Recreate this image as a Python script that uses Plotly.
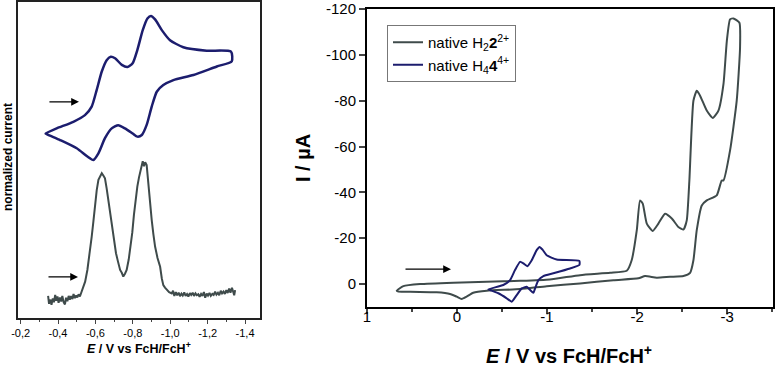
import plotly.graph_objects as go

# ---------------- data ----------------
# Left panel: CV of H4 4^4+ (normalized current, arbitrary units)
cv4_E = [-0.334, -0.393, -0.482, -0.544, -0.580, -0.607, -0.634, -0.660, -0.682, -0.705,
         -0.741, -0.771, -0.799, -0.824, -0.853, -0.878, -0.897, -0.919, -0.955, -0.999,
         -1.070, -1.195, -1.325, -1.329,
         -1.249, -1.124, -1.017, -0.963, -0.928, -0.901, -0.874, -0.848, -0.824, -0.799,
         -0.758, -0.722, -0.687, -0.651, -0.616, -0.589, -0.557, -0.500, -0.411, -0.339, -0.334]
cv4_I = [58.4, 60.0, 62.1, 64.2, 66.9, 72.2, 78.0, 81.6, 82.7, 82.2,
         80.1, 79.4, 80.6, 84.8, 91.1, 94.8, 95.6, 94.5, 91.1, 87.9,
         85.7, 84.6, 84.3, 81.2,
         79.6, 76.9, 75.3, 73.7, 71.6, 66.9, 61.1, 57.9, 57.4, 58.4,
         60.0, 61.0, 60.0, 56.9, 52.1, 50.0, 51.1, 53.7, 56.3, 58.2, 58.4]

# Left panel: differential pulse voltammogram (normalized)
dpv_E = [-0.347, -0.352, -0.360, -0.365, -0.372, -0.378, -0.385, -0.390, -0.397, -0.403,
         -0.410, -0.417, -0.423, -0.430, -0.437, -0.443, -0.450, -0.457, -0.463, -0.470,
         -0.477, -0.483, -0.490, -0.497, -0.503, -0.510, -0.517, -0.523, -0.530,
         -0.535, -0.545, -0.557, -0.568, -0.580, -0.589, -0.598, -0.607, -0.616, -0.625, -0.634,
         -0.643, -0.651, -0.660, -0.669, -0.680, -0.692, -0.700, -0.710, -0.720, -0.732, -0.741,
         -0.749, -0.758, -0.767, -0.778, -0.789, -0.797, -0.806, -0.815, -0.824, -0.833, -0.842,
         -0.848, -0.853, -0.860, -0.866, -0.874, -0.883, -0.892, -0.901, -0.910, -0.919, -0.932,
         -0.946, -0.955, -0.963, -0.972, -0.981, -0.994,
         -1.008, -1.015, -1.022, -1.030, -1.037, -1.045, -1.052, -1.060, -1.067, -1.075,
         -1.082, -1.090, -1.097, -1.105, -1.112, -1.120, -1.127, -1.135, -1.142, -1.150,
         -1.157, -1.165, -1.172, -1.180, -1.187, -1.195, -1.202, -1.210, -1.217, -1.225,
         -1.232, -1.240, -1.247, -1.255, -1.262, -1.270, -1.277, -1.285, -1.292, -1.300,
         -1.307, -1.315, -1.322, -1.330, -1.337, -1.342, -1.347]
dpv_I = [7.0, 4.5, 5.8, 4.2, 6.2, 5.0, 7.3, 5.5, 6.8, 4.8,
         6.5, 5.2, 7.0, 5.0, 4.3, 6.4, 5.3, 7.0, 5.8, 6.9,
         6.0, 7.6, 6.3, 7.1, 6.5, 7.5, 6.8, 7.8, 8.5,
         9.9, 11.5, 15.2, 19.5, 25.7, 30.5, 36.3, 40.5, 43.7, 44.8, 45.8,
         45.0, 44.2, 41.0, 37.3, 32.0, 27.8, 24.5, 20.5, 18.0, 15.2, 14.3,
         13.1, 14.0, 15.2, 18.5, 22.6, 27.0, 32.7, 37.5, 41.6, 44.5, 46.8,
         48.6, 49.6, 48.0, 49.3, 48.4, 41.6, 36.0, 31.0, 26.5, 22.6, 19.0,
         16.2, 12.5, 10.4, 9.6, 8.9, 8.2,
         7.8, 8.6, 7.0, 8.2, 7.2, 8.0, 6.9, 7.7, 7.1, 8.1,
         7.0, 7.6, 6.8, 7.9, 7.3, 8.0, 7.0, 7.8, 7.2, 7.5,
         6.7, 7.6, 7.0, 8.2, 6.4, 7.7, 7.1, 7.9, 7.0, 7.6,
         7.3, 8.3, 7.4, 8.0, 7.2, 8.6, 7.8, 8.4, 7.6, 8.8,
         7.9, 9.3, 8.0, 9.6, 8.2, 7.2, 8.8]

left_tick_vals = [-0.2, -0.4, -0.6, -0.8, -1.0, -1.2, -1.4]
left_tick_text = ["-0,2", "-0,4", "-0,6", "-0,8", "-1,0", "-1,2", "-1,4"]

# Right panel: CV of native H2 2^2+ (I / uA)
cv2_E = [0.670, 0.596, 0.410, 0.040, -0.330, -0.700, -1.030, -1.367, -1.700, -1.885,
         -1.940, -1.997, -2.033, -2.063, -2.108, -2.174, -2.237, -2.311, -2.386, -2.459,
         -2.515, -2.552, -2.581, -2.626, -2.663, -2.700, -2.774, -2.841, -2.904, -2.960,
         -2.997, -3.033, -3.070, -3.137, -3.144, -3.107, -3.033, -2.960, -2.940, -2.885,
         -2.774, -2.719, -2.663, -2.626, -2.589, -2.515, -2.367, -2.219, -2.089, -2.015,
         -1.737, -1.367, -0.996, -0.700, -0.330, -0.180, -0.107, -0.052, 0.003, 0.078,
         0.226, 0.522, 0.652, 0.670]
cv2_I = [2.9, 0.9, 0.0, -0.6, -1.0, -1.4, -2.0, -3.9, -4.9, -5.8,
         -10.4, -23.5, -36.5, -35.1, -26.4, -23.2, -26.4, -30.7, -28.6, -24.9,
         -23.8, -27.8, -45.2, -80.0, -84.3, -82.2, -75.7, -72.5, -75.7, -87.3,
         -106.0, -115.5, -115.9, -114.0, -103.2, -80.0, -58.3, -45.2, -45.2, -38.7,
         -36.5, -34.3, -23.5, -10.4, -4.9, -3.5, -3.2, -2.8, -3.5, -2.5,
         -1.7, -0.3, 0.9, 2.2, 2.9, 3.8, 5.5, 6.5, 5.5, 4.3,
         3.6, 3.3, 3.3, 2.9]

# Right panel: CV of native H4 4^4+ (I / uA)
cv4r_E = [-0.348, -0.514, -0.589, -0.644, -0.700, -0.737, -0.781, -0.830, -0.885, -0.918,
          -0.950, -0.996, -1.107, -1.359, -1.359, -1.256, -1.070, -0.959, -0.904, -0.867,
          -0.848, -0.810, -0.774, -0.719, -0.663, -0.607, -0.552, -0.459, -0.367, -0.348]
cv4r_I = [2.3, 0.4, -1.7, -6.1, -9.7, -9.0, -7.8, -10.4, -14.8, -16.2,
          -15.0, -12.6, -10.7, -10.1, -8.3, -6.8, -4.7, -3.5, -1.7, 1.9,
          3.8, 2.5, 1.2, 1.9, 4.8, 7.7, 6.2, 4.0, 2.6, 2.3]

right_x_ticks = [1, 0, -1, -2, -3]
right_x_text = ["1", "0", "-1", "-2", "-3"]
right_y_ticks = [-120, -100, -80, -60, -40, -20, 0]
right_y_text = ["-120", "-100", "-80", "-60", "-40", "-20", "0"]

series_names = ["native H<sub>2</sub><b>2</b><sup>2+</sup>",
                "native H<sub>4</sub><b>4</b><sup>4+</sup>"]

# scan-direction arrows (tail E, head E, level)
left_arrow_cv = (-0.346, -0.512, 68.4)
left_arrow_dpv = (-0.341, -0.507, 13.0)
right_arrow = (0.589, 0.067, -6.5)

# ---------------- figure ----------------
W, H = 776, 367
NAVY = "#1c1d6e"
GRAY = "#3f4b4b"
FONT = "Liberation Sans, Arial, sans-serif"

fig = go.Figure()
fig.add_trace(go.Scatter(x=cv4_E, y=cv4_I, mode="lines", line=dict(color=NAVY, width=2.5, shape="spline", smoothing=0.6),
                         showlegend=False, xaxis="x", yaxis="y"))
fig.add_trace(go.Scatter(x=dpv_E, y=dpv_I, mode="lines", line=dict(color=GRAY, width=2.0),
                         showlegend=False, xaxis="x", yaxis="y"))
fig.add_trace(go.Scatter(x=cv2_E, y=cv2_I, mode="lines", name=series_names[0],
                         line=dict(color=GRAY, width=2.0, shape="spline", smoothing=0.5), xaxis="x2", yaxis="y2"))
fig.add_trace(go.Scatter(x=cv4r_E, y=cv4r_I, mode="lines", name=series_names[1],
                         line=dict(color=NAVY, width=2.0, shape="spline", smoothing=0.5), xaxis="x2", yaxis="y2"))

def px_x(p):
    return p / W

def px_y(p):
    return 1 - p / H

fig.update_layout(
    width=W, height=H, margin=dict(l=0, r=0, t=0, b=0, autoexpand=False),
    paper_bgcolor="white", plot_bgcolor="white",
    font=dict(family=FONT, color="black"),
    xaxis=dict(domain=[px_x(18), px_x(260)], range=[-0.186, -1.48], anchor="y", automargin=False,
               tickvals=left_tick_vals, ticktext=left_tick_text, ticks="outside", ticklen=4,
               tickfont=dict(size=11), showline=True, linecolor="#222", linewidth=1.5, mirror=True,
               showgrid=False, zeroline=False,
               minor=dict(tickvals=[-0.3, -0.5, -0.7, -0.9, -1.1, -1.3], ticks="outside", ticklen=2.5)),
    yaxis=dict(domain=[px_y(318), px_y(2)], range=[0, 100], anchor="x", automargin=False,
               showticklabels=False, ticks="", showline=True, linecolor="#222", linewidth=1.5, mirror=True,
               showgrid=False, zeroline=False),
    xaxis2=dict(domain=[px_x(367), px_x(773)], range=[1, -3.51], anchor="y2", automargin=False,
                tickvals=right_x_ticks, ticktext=right_x_text, ticks="outside", ticklen=5, tickwidth=2,
                ticklabelstandoff=-10,
                tickfont=dict(size=15), showline=True, linecolor="black", linewidth=2, mirror=True,
                showgrid=False, zeroline=False,
                minor=dict(tickvals=[0.5, -0.5, -1.5, -2.5, -3.5], ticks="outside", ticklen=3, tickwidth=2)),
    yaxis2=dict(domain=[px_y(307), px_y(9)], range=[10, -120], anchor="x2", automargin=False,
                tickvals=right_y_ticks, ticktext=right_y_text, ticks="outside", ticklen=6, tickwidth=2,
                tickfont=dict(size=15), showline=True, linecolor="black", linewidth=2, mirror=True,
                showgrid=False, zeroline=False),
    legend=dict(x=px_x(387), y=px_y(25), xanchor="left", yanchor="top",
                bordercolor="#777", borderwidth=1, bgcolor="white",
                font=dict(size=15, family=FONT), tracegroupgap=0, itemwidth=30),
)

annotations = [
    dict(text="<b><i>E</i> / V vs FcH/FcH<sup>+</sup></b>", xref="paper", yref="paper",
         x=px_x(139), y=px_y(348), showarrow=False, font=dict(size=12.5), xanchor="center", yanchor="middle"),
    dict(text="<b>normalized current</b>", xref="paper", yref="paper",
         x=px_x(8), y=px_y(157), showarrow=False, font=dict(size=12), textangle=-90,
         xanchor="center", yanchor="middle"),
    dict(text="<b><i>E</i> / V vs FcH/FcH<sup>+</sup></b>", xref="paper", yref="paper",
         x=px_x(569), y=px_y(354), showarrow=False, font=dict(size=20), xanchor="center", yanchor="middle"),
    dict(text="<b>I / µA</b>", xref="paper", yref="paper",
         x=px_x(303), y=px_y(158), showarrow=False, font=dict(size=20), textangle=-90,
         xanchor="center", yanchor="middle"),
]
for (e0, e1, lvl), xr, yr in [(left_arrow_cv, "x", "y"), (left_arrow_dpv, "x", "y"), (right_arrow, "x2", "y2")]:
    annotations.append(dict(x=e1, y=lvl, ax=e0, ay=lvl, xref=xr, yref=yr, axref=xr, ayref=yr,
                            showarrow=True, arrowhead=2, arrowsize=1.2, arrowwidth=1.3, arrowcolor="black", text=""))
fig.update_layout(annotations=annotations)

fig.write_html("out.html", config={"displayModeBar": False},
               post_script="document.body.style.margin='0';document.body.style.padding='0';")
